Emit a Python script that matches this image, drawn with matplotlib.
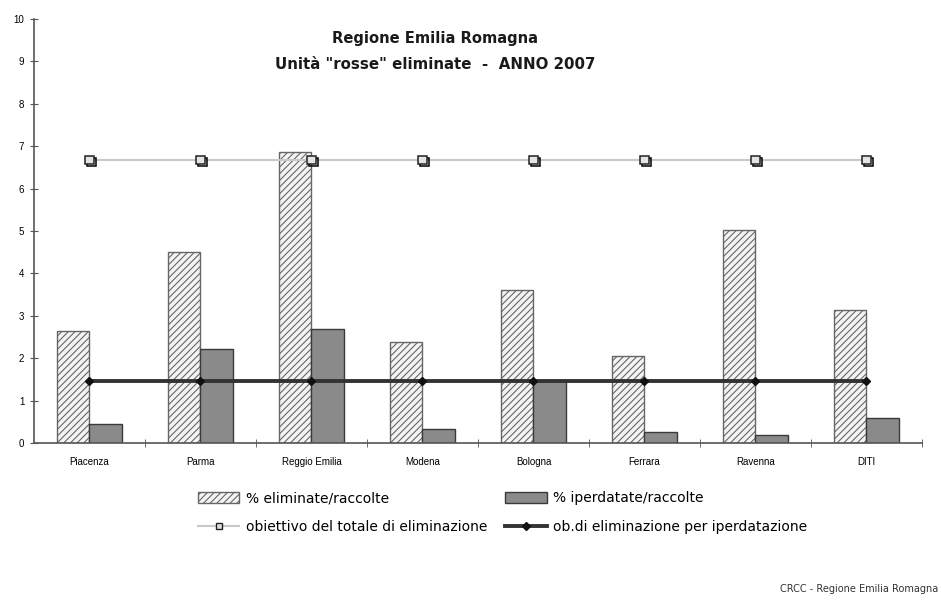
import numpy as np
import matplotlib.pyplot as plt
import matplotlib.patheffects as pe
from matplotlib.lines import Line2D
from matplotlib.patches import Patch

plt.rcParams['font.family'] = ['Liberation Sans', 'DejaVu Sans']
plt.rcParams['hatch.linewidth'] = 0.8

# Dati per provincia
province = ["Piacenza", "Parma", "Reggio Emilia", "Modena", "Bologna",
            "Ferrara", "Ravenna", "DITI"]
perc_eliminate = [2.64, 4.51, 6.86, 2.39, 3.60, 2.05, 5.02, 3.13]
perc_iperdatate = [0.44, 2.21, 2.69, 0.32, 1.46, 0.26, 0.18, 0.58]
obiettivo_totale = [6.67] * 8
obiettivo_iperdatazione = [1.47] * 8
yticks = list(range(0, 11))

fig = plt.figure(figsize=(9.41, 6.04), dpi=100)
ax = fig.add_axes([0.0361, 0.2666, 0.9437, 0.7019])

x = np.arange(len(province))
w = 0.295
ax.bar(x - w / 2, perc_eliminate, w, facecolor='#f4f4f4', edgecolor='#666666',
       hatch='/////', linewidth=1.0, zorder=2)
ax.bar(x + w / 2, perc_iperdatate, w, facecolor='#8a8a8a', edgecolor='#3a3a3a',
       linewidth=1.0, zorder=2)

ax.plot(x, obiettivo_totale, color='#c8c8c8', linewidth=1.5, zorder=3)
ax.plot(x, obiettivo_totale, linestyle='none', marker='s', markersize=6,
        markerfacecolor='#e4e4e4', markeredgecolor='#222222', markeredgewidth=1.1,
        zorder=3.5,
        path_effects=[pe.SimpleLineShadow(offset=(1.5, -1.5), shadow_color='#000000',
                                          alpha=1.0), pe.Normal()])
ax.plot(x, obiettivo_iperdatazione, color='#333333', linewidth=2.8, marker='D',
        markersize=4, markerfacecolor='#111111', markeredgecolor='#111111',
        zorder=4)

ax.set_xlim(-0.5, len(province) - 0.5)
ax.set_ylim(0, 10)
ax.set_yticks(yticks)
ax.set_yticklabels([str(t) for t in yticks], fontsize=7)
ax.set_xticks(x)
ax.set_xticklabels(province, fontsize=7)
ax.tick_params(axis='x', length=0, pad=10)
ax.set_xticks(np.arange(len(province)) + 0.5, minor=True)
ax.tick_params(axis='x', which='minor', direction='inout', length=6, color='#555555')
ax.tick_params(axis='y', direction='inout', length=6, color='#555555', pad=4)
for s in ['top', 'right']:
    ax.spines[s].set_visible(False)
for s in ['left', 'bottom']:
    ax.spines[s].set_color('#555555')
    ax.spines[s].set_linewidth(1.2)

title_font = dict(family=['DejaVu Sans'], fontweight='bold', color='#1a1a1a')
ax.text(0.4516, 0.955, "Regione Emilia Romagna", transform=ax.transAxes,
        ha='center', va='center', fontsize=10.6, **title_font)
ax.text(0.4516, 0.892, "Unità \"rosse\" eliminate  -  ANNO 2007", transform=ax.transAxes,
        ha='center', va='center', fontsize=10.8, **title_font)

handles = [
    Patch(facecolor='#f4f4f4', edgecolor='#666666', hatch='/////'),
    Line2D([], [], color='#c8c8c8', linewidth=1.5, marker='s', markersize=5,
           markerfacecolor='#e0e0e0', markeredgecolor='#222222'),
    Patch(facecolor='#8a8a8a', edgecolor='#3a3a3a'),
    Line2D([], [], color='#333333', linewidth=2.8, marker='D', markersize=4,
           markerfacecolor='#111111', markeredgecolor='#111111'),
]
labels = ["% eliminate/raccolte", "obiettivo del totale di eliminazione",
          "% iperdatate/raccolte", "ob.di eliminazione per iperdatazione"]
fig.legend(handles, labels, ncol=2, loc='center', bbox_to_anchor=(0.534, 0.151),
           frameon=False, prop=dict(family=['DejaVu Sans'], size=10),
           handlelength=3.0, handleheight=0.9, columnspacing=1.3,
           handletextpad=0.45, labelspacing=1.1)

fig.text(0.997, 0.025, "CRCC - Regione Emilia Romagna", ha='right', va='center',
         fontsize=7, color='#333333', family=['DejaVu Sans'])

fig.savefig('out.png', dpi=100)
